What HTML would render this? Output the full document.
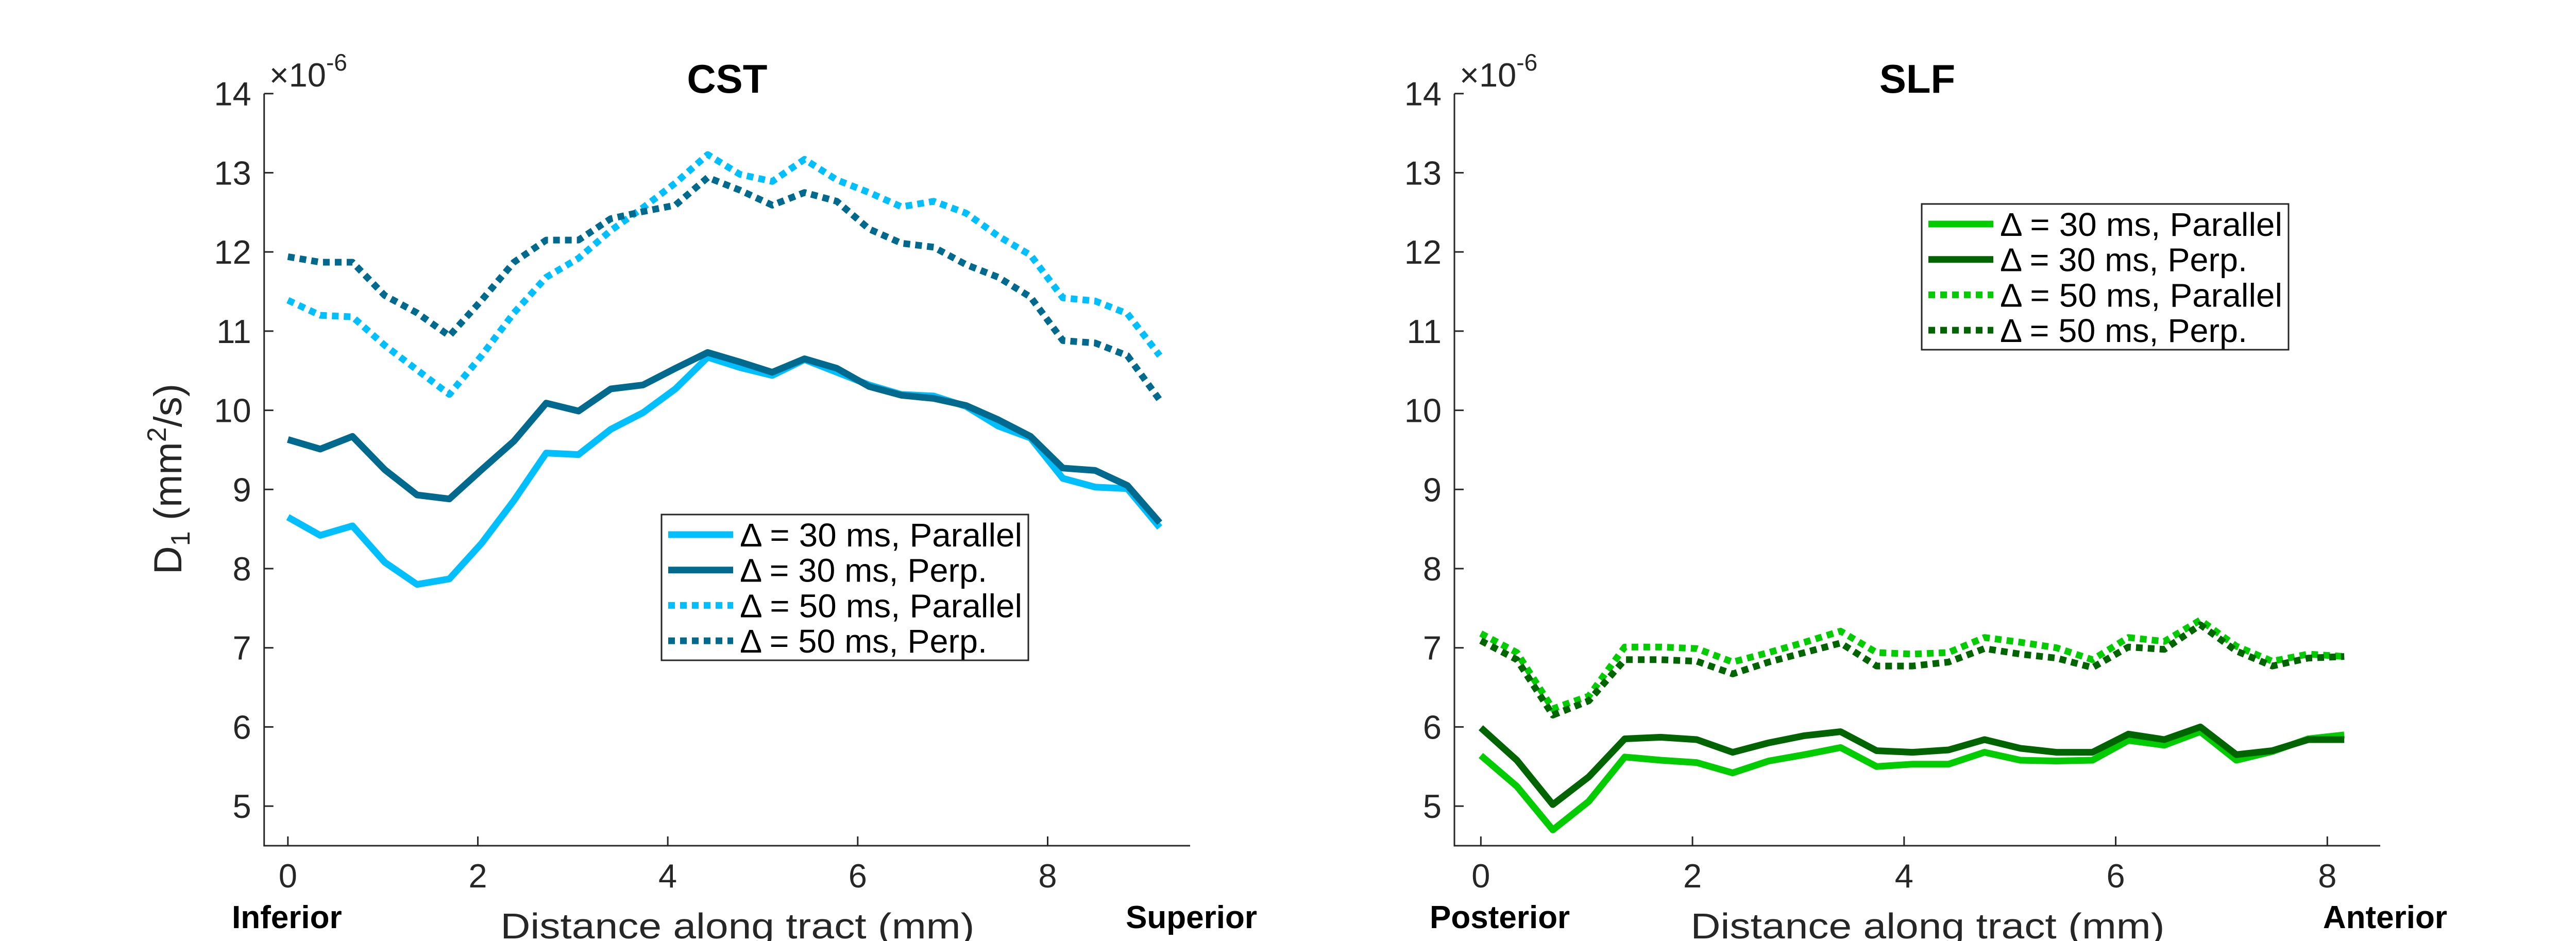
<!DOCTYPE html>
<html><head><meta charset="utf-8"><style>
html,body{margin:0;padding:0;background:#fff;}
svg{display:block;font-family:"Liberation Sans",sans-serif;}
</style></head><body>
<svg id="fig" width="5133" height="1827" viewBox="0 0 5133 1827" xmlns="http://www.w3.org/2000/svg"></svg>
<script>
const cstX = [0,0.34,0.68,1.02,1.36,1.70,2.04,2.38,2.72,3.06,3.40,3.74,4.08,4.42,4.76,5.10,5.44,5.78,6.12,6.46,6.80,7.14,7.48,7.82,8.16,8.50,8.84,9.18];
const cstPar30 = [8.65,8.42,8.54,8.08,7.80,7.87,8.32,8.86,9.46,9.44,9.76,9.97,10.27,10.67,10.54,10.44,10.64,10.48,10.32,10.20,10.18,10.05,9.80,9.65,9.14,9.03,9.01,8.52];
const cstPerp30 = [9.63,9.51,9.67,9.25,8.93,8.88,9.25,9.61,10.09,9.99,10.27,10.32,10.53,10.73,10.61,10.48,10.65,10.53,10.30,10.19,10.15,10.06,9.88,9.67,9.27,9.24,9.05,8.58];
const cstPar50 = [11.39,11.20,11.18,10.82,10.51,10.20,10.69,11.23,11.68,11.92,12.27,12.56,12.87,13.23,12.98,12.89,13.17,12.91,12.75,12.57,12.64,12.49,12.20,11.96,11.42,11.38,11.22,10.69];
const cstPerp50 = [11.94,11.87,11.87,11.45,11.23,10.94,11.39,11.87,12.15,12.15,12.42,12.51,12.59,12.94,12.78,12.59,12.75,12.64,12.29,12.11,12.06,11.84,11.68,11.43,10.88,10.85,10.69,10.13];
const slfX = [0,0.34,0.68,1.02,1.36,1.70,2.04,2.38,2.72,3.06,3.40,3.74,4.08,4.42,4.76,5.10,5.44,5.78,6.12,6.46,6.80,7.14,7.48,7.82,8.16];
const slfPar30 = [5.64,5.25,4.70,5.06,5.62,5.58,5.55,5.42,5.57,5.65,5.74,5.50,5.53,5.53,5.68,5.58,5.57,5.58,5.83,5.77,5.94,5.58,5.69,5.85,5.90];
const slfPerp30 = [5.99,5.58,5.02,5.37,5.85,5.87,5.84,5.68,5.80,5.89,5.94,5.70,5.68,5.71,5.84,5.73,5.68,5.68,5.91,5.84,6.00,5.65,5.70,5.84,5.84];
const slfPar50 = [7.18,6.94,6.23,6.39,7.01,7.01,6.99,6.82,6.94,7.07,7.21,6.94,6.92,6.94,7.13,7.07,7.00,6.85,7.13,7.08,7.35,7.02,6.83,6.92,6.89];
const slfPerp50 = [7.09,6.85,6.15,6.33,6.85,6.85,6.83,6.67,6.82,6.94,7.06,6.77,6.77,6.82,6.99,6.92,6.87,6.75,7.01,6.98,7.29,6.96,6.77,6.87,6.89];
const yTicks = [5,6,7,8,9,10,11,12,13,14];
const cstXTicks = [0,2,4,6,8];
const slfXTicks = [0,2,4,6,8];
const legendLabels = ["\u0394 = 30 ms, Parallel","\u0394 = 30 ms, Perp.","\u0394 = 50 ms, Parallel","\u0394 = 50 ms, Perp."];

const NS="http://www.w3.org/2000/svg";
const svg=document.getElementById('fig');
function mk(tag,attrs,parent){const e=document.createElementNS(NS,tag);for(const k in attrs)e.setAttribute(k,attrs[k]);(parent||svg).appendChild(e);return e;}

function panel(cfg){
  const g=mk('g',{});
  
  
  const L=cfg.left,R=cfg.right,T=181.7,B=1642;
  const xs=v=>L+(v-cfg.xmin)/(cfg.xmax-cfg.xmin)*(R-L);
  const ys=v=>B-(v-4.5)/(14-4.5)*(B-T);
  cfg.series.forEach(s=>{
    const d=cfg.x.map((xv,i)=>(i?'L':'M')+xs(xv).toFixed(1)+' '+ys(s.v[i]).toFixed(1)).join(' ');
    const p=mk('path',{d:d,fill:'none',stroke:s.c,'stroke-width':13,'stroke-linejoin':'round','stroke-dasharray':s.dash?'13 10':'none'},g);
    
    
  });
  const ax=mk('path',{d:`M${L} ${T} L${L} ${B} L${R} ${B}`,fill:'none',stroke:'#262626','stroke-width':3},g);
  
  
  yTicks.forEach(t=>{
    mk('line',{x1:L,x2:L+18,y1:ys(t),y2:ys(t),stroke:'#262626','stroke-width':3},g);
    const tx=mk('text',{x:L-25,y:ys(t)+23,'text-anchor':'end','font-size':65,fill:'#262626'},g);
    tx.textContent=t;
    
    
  });
  cfg.xticks.forEach(t=>{
    mk('line',{x1:xs(t),x2:xs(t),y1:B,y2:B-18,stroke:'#262626','stroke-width':3},g);
    const tx=mk('text',{x:xs(t),y:1723,'text-anchor':'middle','font-size':65,fill:'#262626'},g);
    tx.textContent=t;
    
    
  });
  const ex=mk('text',{x:L+10,y:168,'font-size':65,fill:'#262626'},g);
  ex.innerHTML='\u00d710<tspan dy="-31" font-size="46">-6</tspan>';
  
  
  const ti=mk('text',{x:(L+R)/2,y:180,'text-anchor':'middle','font-size':78,'font-weight':'bold',fill:'#000'},g);
  ti.textContent=cfg.title;
  
  
  const xl=mk('text',{x:(L+R)/2+20,y:1822,'text-anchor':'middle','font-size':70,fill:'#262626',textLength:920,lengthAdjust:'spacingAndGlyphs'},g);
  xl.textContent='Distance along tract (mm)';
  
  
  const a1=mk('text',{x:cfg.startX,y:1802,'font-size':62,'font-weight':'bold',fill:'#000'},g);
  a1.textContent=cfg.start;
  
  
  const a2=mk('text',{x:cfg.endX,y:1802,'text-anchor':'end','font-size':62,'font-weight':'bold',fill:'#000'},g);
  a2.textContent=cfg.end;
  
  
  const lg=mk('g',{},g);
  
  
  mk('rect',{x:cfg.lgX,y:cfg.lgY,width:712,height:283,fill:'#fff',stroke:'#262626','stroke-width':3},lg);
  cfg.series.forEach((s,i)=>{
    const cy=cfg.lgY+39+i*68.7;
    mk('line',{x1:cfg.lgX+13,x2:cfg.lgX+139,y1:cy,y2:cy,stroke:s.c,'stroke-width':13,'stroke-dasharray':s.dash?'13 10':'none'},lg);
    const t=mk('text',{x:cfg.lgX+152,y:cy+23,'font-size':64,fill:'#000',textLength:(i%2==0)?548:480,lengthAdjust:'spacingAndGlyphs'},lg);
    t.textContent=legendLabels[i];
    
    
  });
}

panel({name:'cst',title:'CST',left:512.7,right:2310,xmin:-0.25,xmax:9.5,x:cstX,xticks:cstXTicks,
  start:'Inferior',end:'Superior',startX:450,endX:2440,lgX:1284,lgY:999,
  series:[{id:'cst-parallel-30',v:cstPar30,c:'#00BFFF'},{id:'cst-perp-30',v:cstPerp30,c:'#00698E'},
          {id:'cst-parallel-50',v:cstPar50,c:'#00BFFF',dash:1},{id:'cst-perp-50',v:cstPerp50,c:'#00698E',dash:1}]});
panel({name:'slf',title:'SLF',left:2823,right:4620,xmin:-0.25,xmax:8.5,x:slfX,xticks:slfXTicks,
  start:'Posterior',end:'Anterior',startX:2775,endX:4750,lgX:3730,lgY:396,
  series:[{id:'slf-parallel-30',v:slfPar30,c:'#00CC00'},{id:'slf-perp-30',v:slfPerp30,c:'#006400'},
          {id:'slf-parallel-50',v:slfPar50,c:'#00CC00',dash:1},{id:'slf-perp-50',v:slfPerp50,c:'#006400',dash:1}]});

const yl=mk('text',{x:0,y:0,'text-anchor':'middle','font-size':76,fill:'#262626',transform:'translate(352,930) rotate(-90)'});
yl.innerHTML='D<tspan dy="16" font-size="52">1</tspan><tspan dy="-16"> (mm</tspan><tspan dy="-30" font-size="52">2</tspan><tspan dy="30">/s)</tspan>';


</script>
</body></html>
